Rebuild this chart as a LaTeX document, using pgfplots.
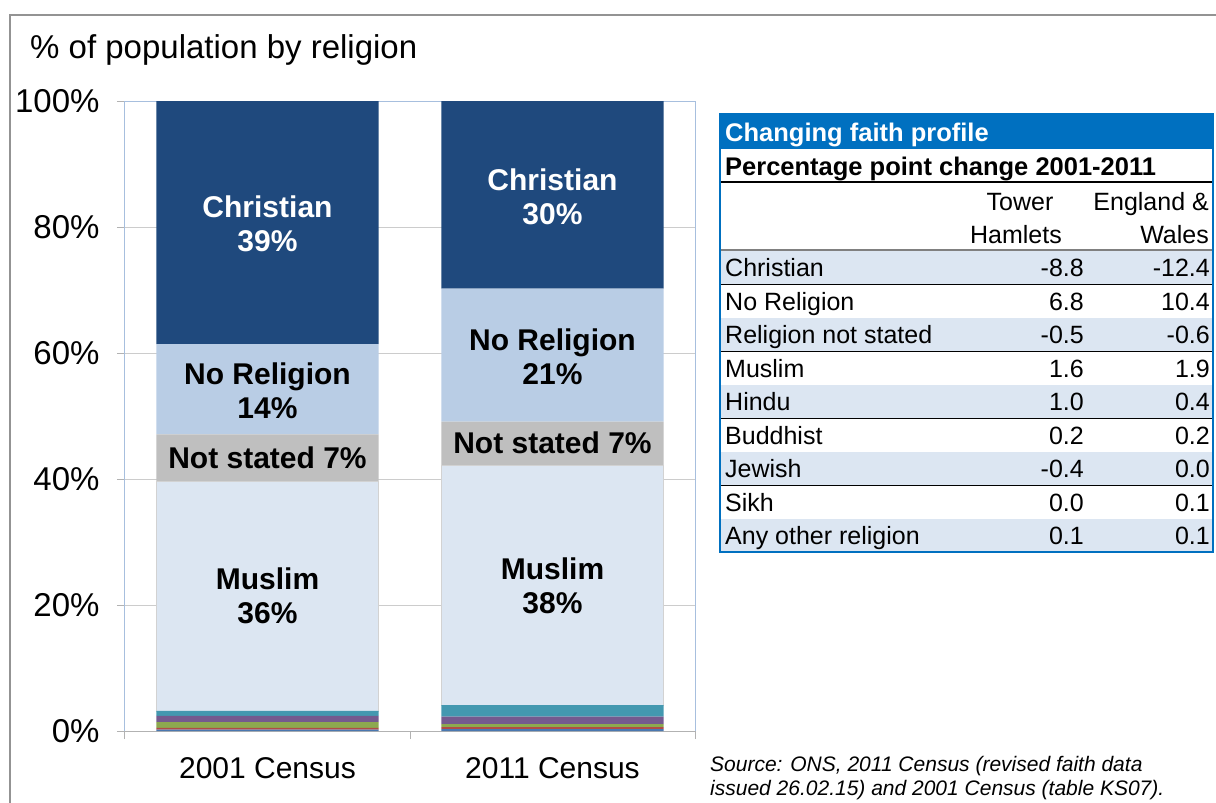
\documentclass[border=0pt]{standalone}
\usepackage{fontspec}
\setmainfont{Liberation Sans}
\usepackage{pgfplots}
\pgfplotsset{compat=1.18}
\definecolor{cChr}{HTML}{1F497D}
\definecolor{cNoR}{HTML}{B9CDE5}
\definecolor{cNS}{HTML}{BFBFBF}
\definecolor{cMus}{HTML}{DCE6F2}
\definecolor{cHin}{HTML}{4398B0}
\definecolor{cBud}{HTML}{745A8F}
\definecolor{cJew}{HTML}{8DA94F}
\definecolor{cSik}{HTML}{B04B47}
\definecolor{cOth}{HTML}{4A78B0}
\definecolor{tblue}{HTML}{0070C0}
\definecolor{rowfill}{HTML}{DCE6F2}
\definecolor{frameblue}{HTML}{A7BFDE}
\newcommand{\barfont}{\fontsize{30}{34}\selectfont\bfseries}
\newcommand{\tabfont}{\fontsize{25}{28}\selectfont}
\tikzset{barlab/.style={align=center, font=\barfont}}
\begin{document}
\begin{tikzpicture}
\begin{scope}[x=1pt,y=-1pt]
\useasboundingbox (0,0) rectangle (1216,803);
\draw[gray!85, line width=1.5pt] (10,803) -- (10,15) -- (1216,15);
\node[anchor=base west, font=\fontsize{33}{36}\selectfont, inner sep=0] at (30,58) {\% of population by religion};
\end{scope}
\begin{axis}[at={(125pt,-731pt)}, anchor=south west, scale only axis,
  width=570pt, height=630pt,
  ymin=0, ymax=100, xmin=-0.5, xmax=1.5,
  ybar stacked, bar width=0.78,
  axis lines=left, axis line style={-},
  x axis line style={draw=gray!60, line width=1pt},
  y axis line style={draw=frameblue, line width=1pt},
  ytick={0,20,...,100}, yticklabel={\pgfmathprintnumber{\tick}\%},
  xtick={-0.5,0.5,1.5}, xticklabels={,,},
  extra x ticks={0,1}, extra x tick labels={2001 Census,2011 Census},
  extra x tick style={major tick length=0pt, grid=none},
  tick align=outside, major tick length=8pt,
  tick style={draw=gray!60, line width=1pt},
  ymajorgrids, grid style={gray!40, line width=0.8pt},
  /pgf/number format/assume math mode=true,
  yticklabel style={font=\fontsize{33}{36}\selectfont, xshift=-14pt},
  xticklabel style={font=\fontsize{30}{34}\selectfont, yshift=-23pt},
  clip=false,
]
\addplot[fill=cOth, draw=none] coordinates {(0,0.2) (1,0.3)};
\addplot[fill=cSik, draw=none] coordinates {(0,0.3) (1,0.3)};
\addplot[fill=cJew, draw=none] coordinates {(0,0.9) (1,0.5)};
\addplot[fill=cBud, draw=none] coordinates {(0,1.0) (1,1.2)};
\addplot[fill=cHin, draw=none] coordinates {(0,0.8) (1,1.8)};
\addplot[fill=cMus, draw=gray!35, line width=0.6pt] coordinates {(0,36.4) (1,38.0)};
\addplot[fill=cNS, draw=none] coordinates {(0,7.5) (1,7.0)};
\addplot[fill=cNoR, draw=none] coordinates {(0,14.3) (1,21.1)};
\addplot[fill=cChr, draw=none] coordinates {(0,38.6) (1,29.8)};
\draw[frameblue, line width=1pt] (rel axis cs:0,1) -- (rel axis cs:1,1) -- (rel axis cs:1,0);
\coordinate (a1) at (axis cs:0,80.5);
\coordinate (a2) at (axis cs:0,54.0);
\coordinate (a3) at (axis cs:0,43.3);
\coordinate (a4) at (axis cs:0,21.5);
\coordinate (b1) at (axis cs:1,84.8);
\coordinate (b2) at (axis cs:1,59.4);
\coordinate (b3) at (axis cs:1,45.7);
\coordinate (b4) at (axis cs:1,23.1);
\end{axis}
\node[barlab, text=white] at (a1) {Christian\\39\%};
\node[barlab] at (a2) {No Religion\\14\%};
\node[barlab] at (a3) {Not stated 7\%};
\node[barlab] at (a4) {Muslim\\36\%};
\node[barlab, text=white] at (b1) {Christian\\30\%};
\node[barlab] at (b2) {No Religion\\21\%};
\node[barlab] at (b3) {Not stated 7\%};
\node[barlab] at (b4) {Muslim\\38\%};
\begin{scope}[x=1pt,y=-1pt]
% table
\fill[tblue] (719,113) rectangle (1214,149);
\node[anchor=base west, inner sep=0, text=white, font=\fontsize{25.5}{28}\selectfont\bfseries] at (725,141) {Changing faith profile};
\node[anchor=base west, inner sep=0, font=\fontsize{25.5}{28}\selectfont\bfseries] at (725,175) {Percentage point change 2001-2011};
\node[anchor=base, inner sep=0, font=\tabfont] at (1020,210) {Tower};
\node[anchor=base, inner sep=0, font=\tabfont] at (1016,243) {Hamlets};
\node[anchor=base east, inner sep=0, font=\tabfont] at (1209,210) {England \&};
\node[anchor=base east, inner sep=0, font=\tabfont] at (1209,243) {Wales};
\draw[black, line width=1.8pt] (721,182) -- (1212,182);
\draw[gray, line width=1.8pt] (721,250) -- (1212,250);
\foreach \i/\lab/\a/\b in {0/Christian/-8.8/-12.4, 1/No Religion/6.8/10.4, 2/Religion not stated/-0.5/-0.6, 3/Muslim/1.6/1.9, 4/Hindu/1.0/0.4, 5/Buddhist/0.2/0.2, 6/Jewish/-0.4/0.0, 7/Sikh/0.0/0.1, 8/Any other religion/0.1/0.1} {
  \pgfmathsetmacro{\rtop}{251+33.5*\i}
  \pgfmathsetmacro{\rbot}{251+33.5*(\i+1)}
  \pgfmathsetmacro{\rbase}{251+33.5*\i+25.5}
  \ifodd\i\else\fill[rowfill] (721,\rtop) rectangle (1212,\rbot);\fi
  \draw[black, line width=0.9pt] (721,\rbot) -- (1212,\rbot);
  \node[anchor=base west, inner sep=0, font=\tabfont] at (725,\rbase) {\lab};
  \node[anchor=base east, inner sep=0, font=\tabfont] at (1084,\rbase) {\a};
  \node[anchor=base east, inner sep=0, font=\tabfont] at (1210,\rbase) {\b};
}
\draw[tblue, line width=2pt] (720,114) rectangle (1213,552);
\node[inner sep=0, anchor=base west, font=\fontsize{21}{24}\selectfont\itshape] at (710,771) {Source: ONS, 2011 Census (revised faith data};
\node[inner sep=0, anchor=base west, font=\fontsize{21}{24}\selectfont\itshape] at (710,795) {issued 26.02.15) and 2001 Census (table KS07).};
\end{scope}
\end{tikzpicture}
\end{document}
